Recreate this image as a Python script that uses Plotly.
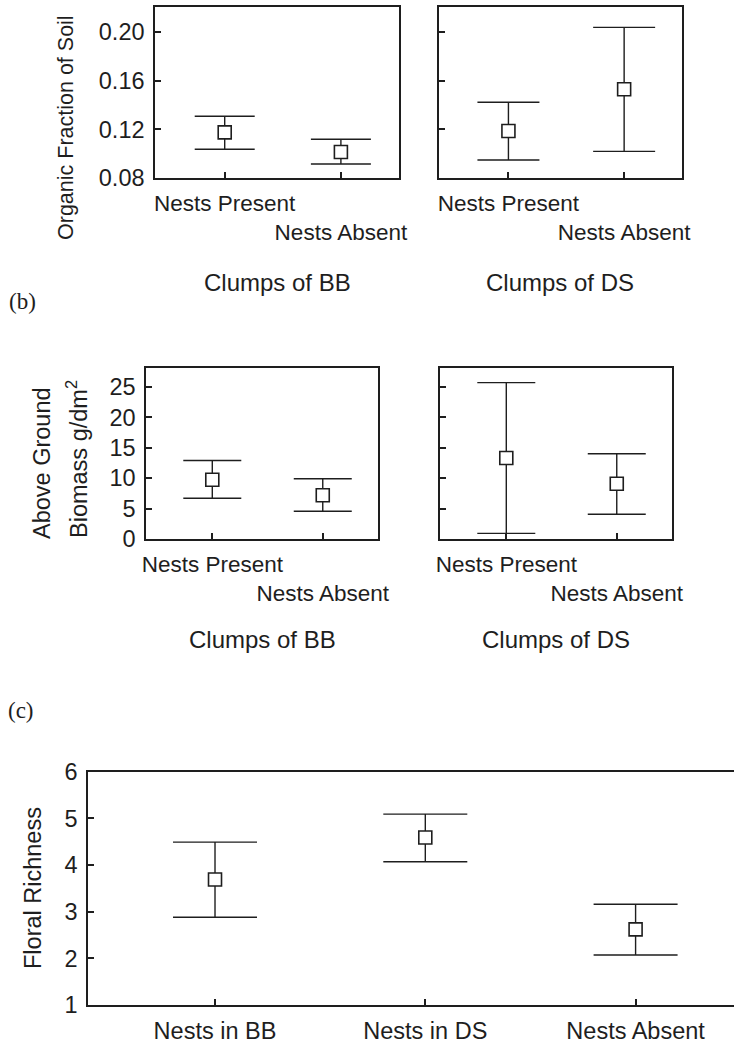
import plotly.graph_objects as go

# ---------------- data ----------------
pair_categories = ["Nests Present", "Nests Absent"]
pair_ticktext = ["Nests Present", "<br>Nests Absent"]

# (b) top: organic fraction of soil
organic_bb_mean = [0.1175, 0.1014]
organic_bb_upper = [0.1307, 0.1118]
organic_bb_lower = [0.1036, 0.0915]
organic_ds_mean = [0.1186, 0.1529]
organic_ds_upper = [0.1422, 0.2038]
organic_ds_lower = [0.0948, 0.1019]
organic_ticks = [0.08, 0.12, 0.16, 0.20]

# (b) middle: above ground biomass
biomass_bb_mean = [9.74, 7.2]
biomass_bb_upper = [12.9, 9.9]
biomass_bb_lower = [6.7, 4.57]
biomass_ds_mean = [13.3, 9.07]
biomass_ds_upper = [25.7, 14.0]
biomass_ds_lower = [0.92, 4.07]
biomass_ticks = [0, 5, 10, 15, 20, 25]

# (c) floral richness
floral_categories = ["Nests in BB", "Nests in DS", "Nests Absent"]
floral_mean = [3.69, 4.59, 2.62]
floral_upper = [4.49, 5.09, 3.16]
floral_lower = [2.88, 4.07, 2.07]
floral_ticks = [1, 2, 3, 4, 5, 6]

# ---------------- styling ----------------
W, H = 734, 1046
INK = "#1e1e1e"
FONT = "Liberation Sans, Arial, sans-serif"
XFS = 22.5
YFS = 23.5
AFS = 24


def px_x(p):
    return p / W


def px_y(p):
    return 1 - p / H


fig = go.Figure()


def add_series(xref, yref, cats, mean, upper, lower, capw):
    fig.add_trace(go.Scatter(
        x=cats, y=mean, xaxis=xref, yaxis=yref, mode="markers",
        marker=dict(symbol="square", size=13, color="white",
                    line=dict(width=1.6, color=INK)),
        error_y=dict(type="data", symmetric=False,
                     array=[u - m for u, m in zip(upper, mean)],
                     arrayminus=[m - l for m, l in zip(mean, lower)],
                     color=INK, thickness=1.4, width=capw),
        showlegend=False, hoverinfo="skip", cliponaxis=False,
    ))


add_series("x", "y", pair_categories, organic_bb_mean, organic_bb_upper, organic_bb_lower, 30)
add_series("x2", "y2", pair_categories, organic_ds_mean, organic_ds_upper, organic_ds_lower, 31)
add_series("x3", "y3", pair_categories, biomass_bb_mean, biomass_bb_upper, biomass_bb_lower, 29)
add_series("x4", "y4", pair_categories, biomass_ds_mean, biomass_ds_upper, biomass_ds_lower, 29)
add_series("x5", "y5", floral_categories, floral_mean, floral_upper, floral_lower, 42)

axis_common = dict(showline=True, linecolor=INK, linewidth=1.5, ticks="inside",
                   ticklen=6, tickwidth=1.5, tickcolor=INK, showgrid=False,
                   zeroline=False, automargin=False, ticklabelstandoff=4)


def xax(domain, anchor, cats, ticktext, rng, mirror=True, size=XFS):
    d = dict(axis_common)
    d.update(domain=domain, anchor=anchor, type="category", categoryorder="array",
             categoryarray=cats, tickvals=cats, ticktext=ticktext, range=rng,
             mirror=mirror, tickangle=0,
             tickfont=dict(family=FONT, size=size, color=INK))
    return d


def yax(domain, anchor, rng, tickvals, fmt=None, show_labels=True, mirror=True):
    d = dict(axis_common)
    d.update(domain=domain, anchor=anchor, range=rng, tickvals=tickvals,
             showticklabels=show_labels, mirror=mirror,
             tickfont=dict(family=FONT, size=YFS, color=INK))
    if fmt:
        d["tickformat"] = fmt
    return d


top_dom = [px_y(178), px_y(7)]
mid_dom = [px_y(539), px_y(368)]
bot_dom = [px_y(1005), px_y(771.7)]

fig.update_layout(
    template="none",
    width=W, height=H, margin=dict(l=0, r=0, t=0, b=0, autoexpand=False),
    paper_bgcolor="white", plot_bgcolor="white",
    font=dict(family=FONT, size=AFS, color=INK),
    xaxis=xax([px_x(155), px_x(399)], "y", pair_categories, pair_ticktext, [-0.6, 1.5]),
    yaxis=yax(top_dom, "x", [0.08, 0.2205], organic_ticks, ".2f"),
    xaxis2=xax([px_x(439), px_x(682)], "y2", pair_categories, pair_ticktext, [-0.6, 1.5]),
    yaxis2=yax(top_dom, "x2", [0.08, 0.2205], organic_ticks, ".2f", show_labels=False),
    xaxis3=xax([px_x(146), px_x(378)], "y3", pair_categories, pair_ticktext, [-0.6, 1.5]),
    yaxis3=yax(mid_dom, "x3", [0, 28.1], biomass_ticks),
    xaxis4=xax([px_x(440), px_x(672)], "y4", pair_categories, pair_ticktext, [-0.6, 1.5]),
    yaxis4=yax(mid_dom, "x4", [0, 28.1], biomass_ticks, show_labels=False),
    xaxis5=xax([px_x(88), 1.0], "y5", floral_categories, floral_categories,
               [-0.604, 2.468], size=23.5),
    yaxis5=yax(bot_dom, "x5", [1, 6], floral_ticks, mirror=False),
)


def ann(text, x, y, size=AFS, angle=0, family=FONT):
    fig.add_annotation(text=text, x=px_x(x), y=px_y(y), xref="paper", yref="paper",
                       showarrow=False, textangle=angle, xanchor="center", yanchor="middle",
                       font=dict(family=family, size=size, color=INK))


SERIF = "Liberation Serif, Times New Roman, serif"

ann("Organic Fraction of Soil", 66, 128, size=21.5, angle=-90)
ann("Clumps of BB", 277, 282)
ann("Clumps of DS", 560, 282)
ann("(b)", 22, 301, size=23, family=SERIF)

ann("Above Ground", 42, 463, size=23.5, angle=-90)
ann("Biomass g/dm<sup>2</sup>", 77, 459, size=23.5, angle=-90)
ann("Clumps of BB", 262, 639)
ann("Clumps of DS", 556, 639)

ann("(c)", 21, 710, size=23, family=SERIF)
ann("Floral Richness", 33, 888, size=23.5, angle=-90)

fig.write_html("out.html")
